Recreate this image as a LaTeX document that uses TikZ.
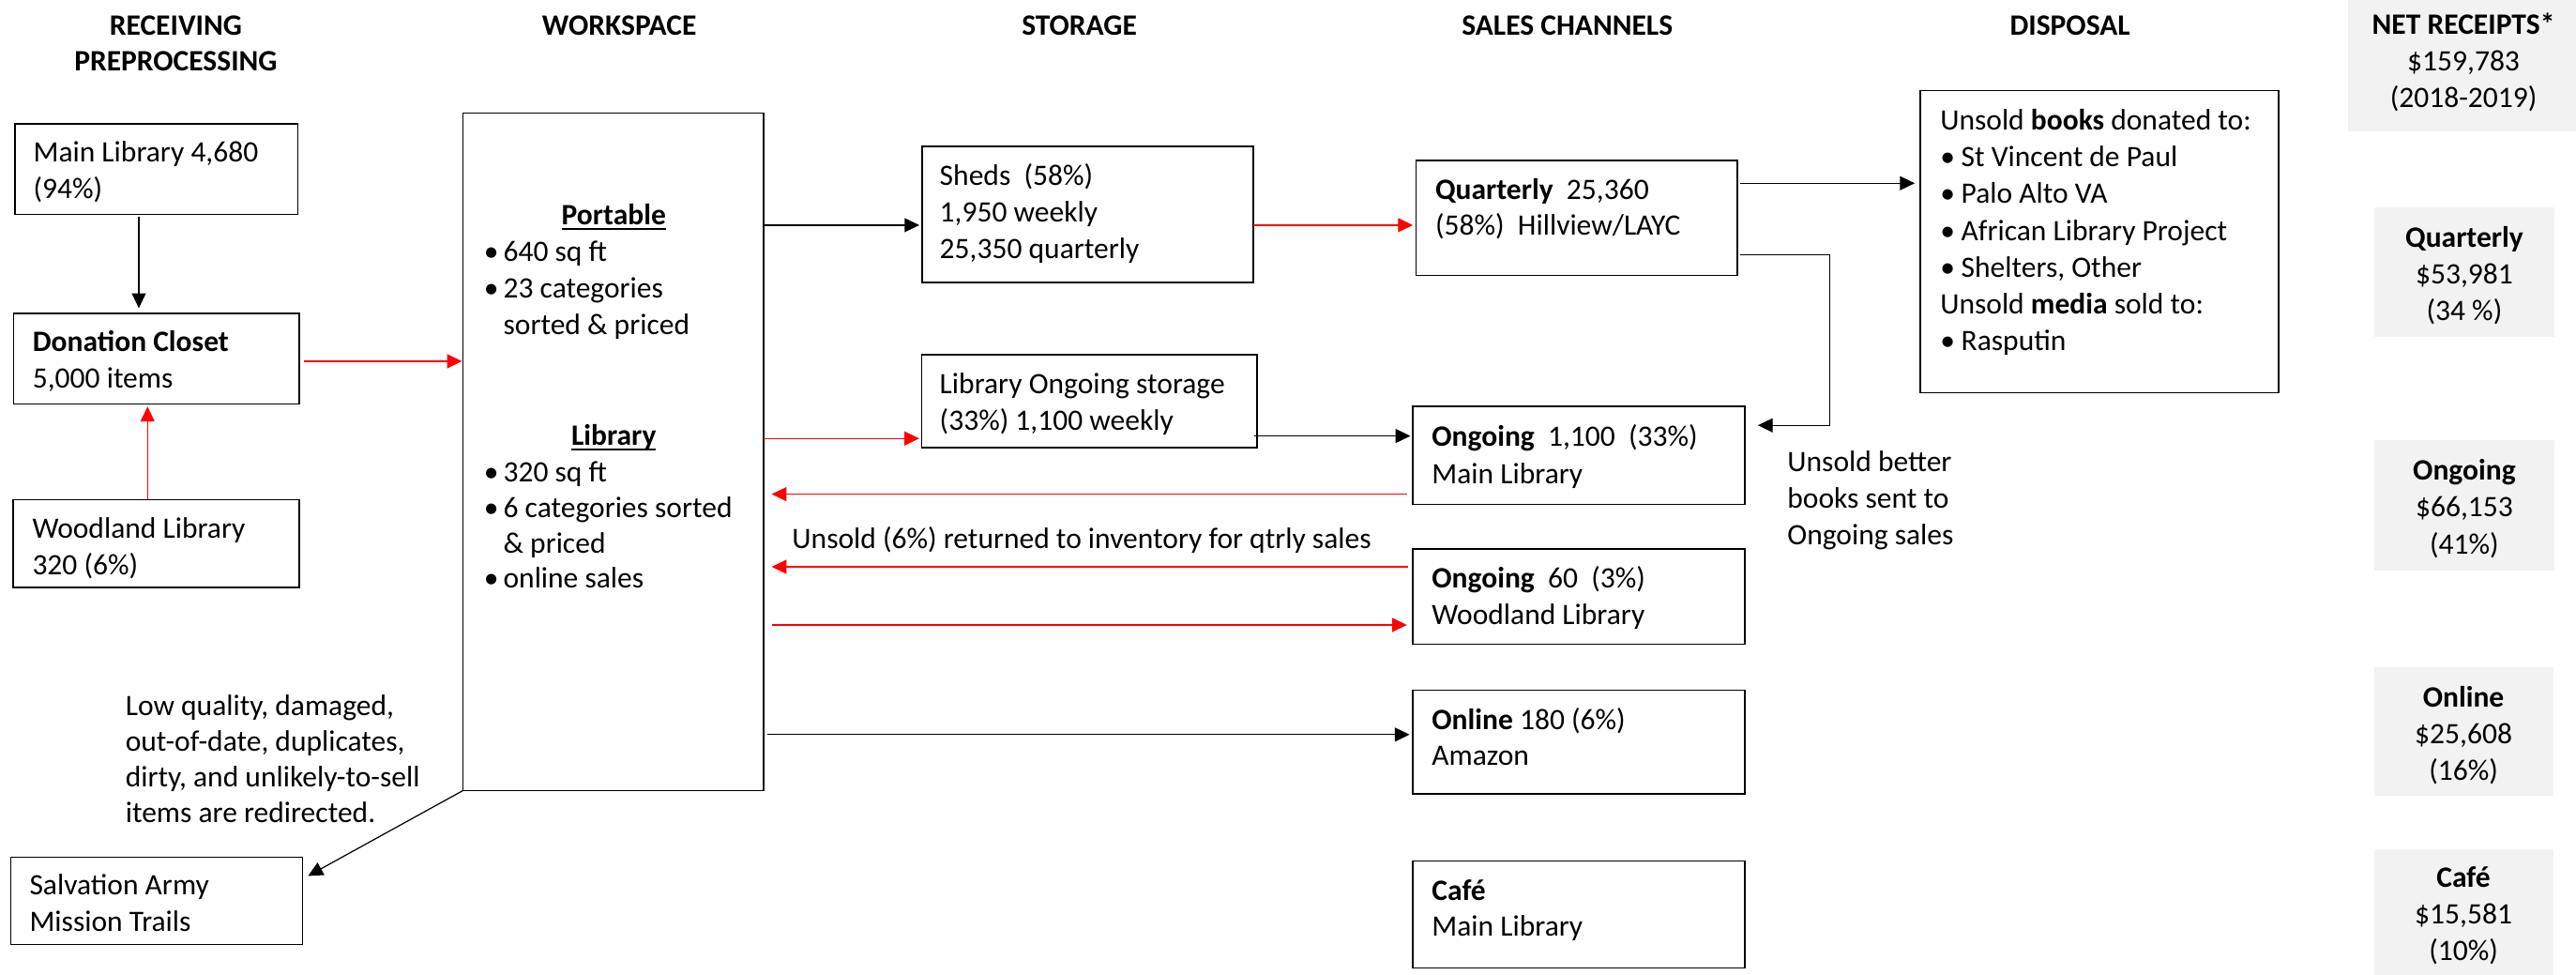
\documentclass[tikz,border=0pt]{standalone}
\usepackage{fontspec}
\setmainfont{Carlito}
\usetikzlibrary{arrows.meta}
\definecolor{graybg}{HTML}{F2F2F2}
\newcommand\myfs{\fontsize{18}{22.3}\selectfont}
\begin{document}
\begin{tikzpicture}[x=1pt,y=-1pt,
  box/.style={draw, line width=0.9pt, inner sep=0pt, outer sep=0pt},
  gbox/.style={fill=graybg, inner sep=0pt, outer sep=0pt},
  txt/.style={font=\myfs, inner sep=0pt, outer sep=0pt, anchor=base west},
  ctxt/.style={txt, anchor=base},
  hdr/.style={ctxt, font=\myfs\bfseries},
  blk/.style={draw=black, line width=0.7pt, -{Triangle[length=9pt,width=8.5pt]}},
  redarr/.style={blk, draw=red},
  uline/.style={line width=1.3pt}]
\useasboundingbox (0,0) rectangle (1568,593);
\fill[white] (0,0) rectangle (1568,593);

% headers
\node[hdr] (h1a) at (107,21.3) {RECEIVING};
\node[hdr] (h1b) at (107,43.4) {PREPROCESSING};
\node[hdr] (h2) at (377,21.3) {WORKSPACE};
\node[hdr] (h3) at (657,21.3) {STORAGE};
\node[hdr] (h4) at (954,21.3) {SALES CHANNELS};
\node[hdr] (h5) at (1260,21.3) {DISPOSAL};

% gray receipts boxes
\node[gbox, minimum width=139pt, minimum height=80pt] (gnet) at (1498.5,40) {};
\node[hdr] (gn1) at (1499.5,21) {NET RECEIPTS*};
\node[ctxt] (gn2) at (1499.5,43.3) {\$159,783};
\node[ctxt] (gn3) at (1499.5,65.6) {(2018-2019)};

\node[gbox, minimum width=110pt, minimum height=79pt] (gq) at (1500,165.5) {};
\node[hdr] (gq1) at (1500,150.2) {Quarterly};
\node[ctxt] (gq2) at (1500,172.5) {\$53,981};
\node[ctxt] (gq3) at (1500,194.8) {(34 \%)};

\node[gbox, minimum width=110pt, minimum height=79pt] (go) at (1500,307.5) {};
\node[hdr] (go1) at (1500,292.3) {Ongoing};
\node[ctxt] (go2) at (1500,314.6) {\$66,153};
\node[ctxt] (go3) at (1500,336.9) {(41\%)};

\node[gbox, minimum width=109pt, minimum height=78pt] (gon) at (1499.5,445) {};
\node[hdr] (gon1) at (1499.5,430) {Online};
\node[ctxt] (gon2) at (1499.5,452.3) {\$25,608};
\node[ctxt] (gon3) at (1499.5,474.6) {(16\%)};

\node[gbox, minimum width=109pt, minimum height=76pt] (gc) at (1499.5,555) {};
\node[hdr] (gc1) at (1499.5,540) {Café};
\node[ctxt] (gc2) at (1499.5,562.3) {\$15,581};
\node[ctxt] (gc3) at (1499.5,584.6) {(10\%)};

% left column boxes
\node[box, minimum width=172.1pt, minimum height=55.2pt] (mainlib) at (95.25,103) {};
\node[txt] (ml1) at (20.3,98.6) {Main Library 4,680};
\node[txt] (ml2) at (20.3,120.9) {(94\%)};

\node[box, minimum width=174.1pt, minimum height=55.2pt] (donation) at (95.25,218.3) {};
\node[txt] (dc1) at (19.9,214.1) {\textbf{Donation Closet}};
\node[txt] (dc2) at (19.9,236.4) {5,000 items};

\node[box, minimum width=174.3pt, minimum height=53.5pt] (woodland) at (95.15,330.75) {};
\node[txt] (wl1) at (19.7,327.4) {Woodland Library};
\node[txt] (wl2) at (19.7,349.7) {320 (6\%)};

\node[box, minimum width=177.6pt, minimum height=53.3pt] (salvation) at (95.4,548.15) {};
\node[txt] (sa1) at (18,544.3) {Salvation Army};
\node[txt] (sa2) at (18,566.6) {Mission Trails};

\node[txt] (lq1) at (76.4,435.5) {Low quality, damaged,};
\node[txt] (lq2) at (76.4,457.1) {out-of-date, duplicates,};
\node[txt] (lq3) at (76.4,478.7) {dirty, and unlikely-to-sell};
\node[txt] (lq4) at (76.4,500.3) {items are redirected.};

% workspace
\node[box, minimum width=182.9pt, minimum height=412.1pt] (workspace) at (373.35,274.95) {};
\node[hdr] (port) at (373.6,137) {Portable};
\draw[uline] ([yshift=-2.3pt]port.base west) -- ([yshift=-2.3pt]port.base east);
\node[txt] (wb1) at (294.5,158.9) {•};
\node[txt] (wt1) at (306.4,158.9) {640 sq ft};
\node[txt] (wb2) at (294.5,181.2) {•};
\node[txt] (wt2) at (306.4,181.2) {23 categories};
\node[txt] (wt3) at (306.4,203.6) {sorted \& priced};
\node[hdr] (libh) at (373.6,270.7) {Library};
\draw[uline] ([yshift=-2.8pt]libh.base west) -- ([yshift=-2.8pt]libh.base east);
\node[txt] (wb4) at (294.5,293.1) {•};
\node[txt] (wt4) at (306.4,293.1) {320 sq ft};
\node[txt] (wb5) at (294.5,315) {•};
\node[txt] (wt5) at (306.4,315) {6 categories sorted};
\node[txt] (wt6) at (306.4,336.6) {\& priced};
\node[txt] (wb7) at (294.5,358) {•};
\node[txt] (wt7) at (306.4,358) {online sales};

% storage
\node[box, minimum width=201.7pt, minimum height=82.8pt] (sheds) at (662.15,130.4) {};
\node[txt] (sh1) at (572,112.7) {Sheds~ (58\%)};
\node[txt] (sh2) at (572,135.3) {1,950 weekly};
\node[txt] (sh3) at (572,157.6) {25,350 quarterly};

\node[box, minimum width=204pt, minimum height=56.7pt] (libstore) at (663,244.05) {};
\node[txt] (ls1) at (572,239.6) {Library Ongoing storage};
\node[txt] (ls2) at (572,261.6) {(33\%) 1,100 weekly};

% sales channels
\node[box, minimum width=195.5pt, minimum height=70.1pt] (quarterly) at (959.75,132.55) {};
\node[txt] (q1) at (873.7,121.4) {\textbf{Quarterly}~ 25,360};
\node[txt] (q2) at (873.7,143.3) {(58\%)~ Hillview/LAYC};

\node[box, minimum width=202pt, minimum height=59.6pt] (ongoing1) at (961,277.2) {};
\node[txt] (o11) at (871.6,271.3) {\textbf{Ongoing}~ 1,100~ (33\%)};
\node[txt] (o12) at (871.6,294.6) {Main Library};

\node[box, minimum width=202pt, minimum height=58pt] (ongoing2) at (961,363) {};
\node[txt] (o21) at (871.6,357.7) {\textbf{Ongoing}~ 60~ (3\%)};
\node[txt] (o22) at (871.6,380.2) {Woodland Library};

\node[box, minimum width=202pt, minimum height=63pt] (online) at (961,451.5) {};
\node[txt] (on1) at (871.6,443.7) {\textbf{Online} 180 (6\%)};
\node[txt] (on2) at (871.6,465.7) {Amazon};

\node[box, minimum width=202pt, minimum height=65pt] (cafe) at (961,556.5) {};
\node[txt] (cf1) at (871.6,547.7) {\textbf{Café}};
\node[txt] (cf2) at (871.6,569.7) {Main Library};

% disposal
\node[box, minimum width=218pt, minimum height=184pt] (disposal) at (1278,147) {};
\node[txt] (d1) at (1181,79.3) {Unsold \textbf{books} donated to:};
\node[txt] (db2) at (1181,101.6) {•};
\node[txt] (d2) at (1193.8,101.6) {St Vincent de Paul};
\node[txt] (db3) at (1181,123.9) {•};
\node[txt] (d3) at (1193.8,123.9) {Palo Alto VA};
\node[txt] (db4) at (1181,146.2) {•};
\node[txt] (d4) at (1193.8,146.2) {African Library Project};
\node[txt] (db5) at (1181,168.5) {•};
\node[txt] (d5) at (1193.8,168.5) {Shelters, Other};
\node[txt] (d6) at (1181,190.8) {Unsold \textbf{media} sold to:};
\node[txt] (db7) at (1181,213.1) {•};
\node[txt] (d7) at (1193.8,213.1) {Rasputin};

\node[txt] (ub1) at (1088,287) {Unsold better};
\node[txt] (ub2) at (1088,309.3) {books sent to};
\node[txt] (ub3) at (1088,331.6) {Ongoing sales};

\node[txt] (ret) at (482.2,334) {Unsold (6\%) returned to inventory for qtrly sales};

% connectors
\draw[blk, shorten <=1.4pt, shorten >=3.2pt] ([xshift=-10.75pt]mainlib.south) -- ([xshift=-10.75pt]donation.north);
\draw[redarr, shorten >=1.5pt] (woodland.north -| 89.8,0) -- (donation.south -| 89.8,0);
\draw[redarr, shorten <=2.7pt, shorten >=0.7pt] (donation.east |- 0,219.8) -- (workspace.west |- 0,219.8);
\draw[blk] (workspace.south west) -- ([xshift=3.3pt,yshift=-11.5pt]salvation.north east);

\draw[blk, shorten >=1.7pt] (workspace.east |- 0,137) -- (sheds.west |- 0,137);
\draw[redarr, shorten >=2pt] (sheds.east |- 0,137) -- (quarterly.west |- 0,137);
\draw[redarr, shorten >=1.5pt] (workspace.east |- 0,266.8) -- (libstore.west |- 0,266.8);
\draw[blk, shorten <=-1.5pt, shorten >=1.5pt] (libstore.east |- 0,265.3) -- (ongoing1.west |- 0,265.3);
\draw[redarr, shorten <=3.6pt, shorten >=4.9pt] (ongoing1.west |- 0,300.7) -- (workspace.east |- 0,300.7);
\draw[redarr, shorten <=3pt, shorten >=4.9pt] (ongoing2.west |- 0,344.9) -- (workspace.east |- 0,344.9);
\draw[redarr, shorten <=4.9pt, shorten >=3.6pt] (workspace.east |- 0,380.3) -- (ongoing2.west |- 0,380.3);
\draw[blk, shorten <=2.2pt, shorten >=2pt] (workspace.east |- 0,447) -- (online.west |- 0,447);

\draw[blk, shorten <=1.5pt, shorten >=3.5pt] (quarterly.east |- 0,111.5) -- (disposal.west |- 0,111.5);
\coordinate (elb) at (1113.8,200);
\draw[blk, shorten <=1.5pt, shorten >=8pt] (quarterly.east |- 0,155) -| (elb) |- (ongoing1.east |- 0,258.8);
\end{tikzpicture}
\end{document}
